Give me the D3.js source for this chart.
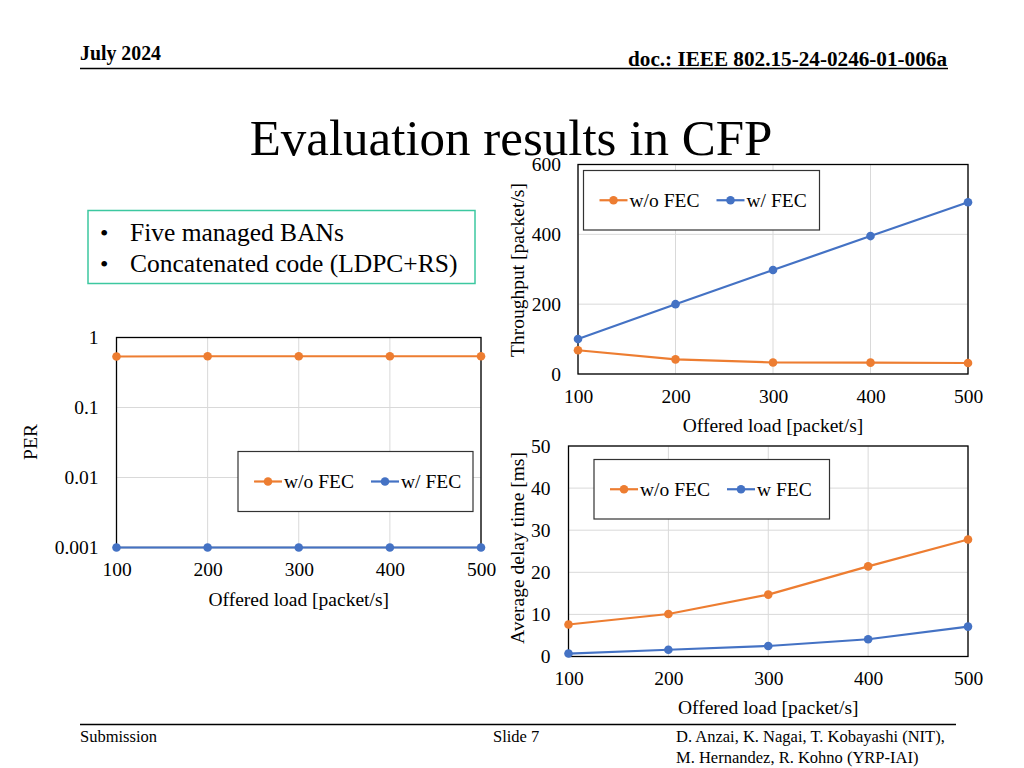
<!DOCTYPE html>
<html><head><meta charset="utf-8">
<script src="https://cdn.jsdelivr.net/npm/d3@7"></script>
<style>
body{margin:0;background:#fff;}
svg{display:block;font-family:"Liberation Serif","Times New Roman",serif;}
</style></head>
<body>
<svg id="c" width="1024" height="768"></svg>
<script>
const loads = [100, 200, 300, 400, 500];
const seriesNames = ["w/o FEC", "w/ FEC"];
const delaySeriesNames = ["w/o FEC", "w FEC"];
const thrNoFec = [68, 42, 33, 32.5, 31.5];
const thrFec = [100, 200, 298, 395, 492];
const perNoFec = [0.535, 0.54, 0.54, 0.54, 0.54];
const perFec = [0.001, 0.001, 0.001, 0.001, 0.001];
const delayNoFec = [7.6, 10.1, 14.7, 21.4, 27.8];
const delayFec = [0.7, 1.6, 2.5, 4.1, 7.1];
const thrTicks = [0, 200, 400, 600];
const perTicks = [1, 0.1, 0.01, 0.001];
const perTickLabels = ["1", "0.1", "0.01", "0.001"];
const delayTicks = [0, 10, 20, 30, 40, 50];
const colors = ["#ED7D31", "#4472C4"];
const FS = 19.5;

const svg = d3.select("#c");

// Header
svg.append("text").attr("x", 80).attr("y", 60).attr("font-size", 20).attr("font-weight", "bold").attr("textLength", 81).attr("lengthAdjust", "spacingAndGlyphs").text("July 2024");
svg.append("text").attr("x", 947).attr("y", 66).attr("text-anchor", "end").attr("font-size", 20).attr("font-weight", "bold").attr("textLength", 319).attr("lengthAdjust", "spacingAndGlyphs").text("doc.: IEEE 802.15-24-0246-01-006a");
svg.append("line").attr("x1", 80).attr("x2", 948).attr("y1", 68.5).attr("y2", 68.5).attr("stroke", "#000").attr("stroke-width", 1.5);

// Title
svg.append("text").attr("x", 511).attr("y", 155).attr("text-anchor", "middle").attr("font-size", 51).text("Evaluation results in CFP");

// Bullet box
svg.append("rect").attr("x", 88).attr("y", 210.5).attr("width", 387).attr("height", 73).attr("fill", "none").attr("stroke", "#3CC8A0").attr("stroke-width", 1.5);
["Five managed BANs", "Concatenated code (LDPC+RS)"].forEach((t, i) => {
  svg.append("text").attr("x", 100).attr("y", 241 + i * 31).attr("font-size", 24).text("\u2022");
  svg.append("text").attr("x", 130).attr("y", 241 + i * 31).attr("font-size", 25.5).text(t);
});

// Footer
svg.append("line").attr("x1", 80).attr("x2", 956).attr("y1", 724.5).attr("y2", 724.5).attr("stroke", "#000").attr("stroke-width", 1.5);
svg.append("text").attr("x", 80).attr("y", 742).attr("font-size", 16.5).text("Submission");
svg.append("text").attr("x", 493).attr("y", 742).attr("font-size", 16.5).text("Slide 7");
svg.append("text").attr("x", 676).attr("y", 742).attr("font-size", 16.5).text("D. Anzai, K. Nagai, T. Kobayashi (NIT),");
svg.append("text").attr("x", 676).attr("y", 763).attr("font-size", 16.5).text("M. Hernandez, R. Kohno (YRP-IAI)");

function chart(opt) {
  const g = svg.append("g");
  const x = d3.scaleLinear().domain([100, 500]).range([opt.x0, opt.x1]);
  const y = opt.y;
  g.selectAll(".vg").data(loads).join("line")
    .attr("x1", d => x(d)).attr("x2", d => x(d)).attr("y1", opt.y1).attr("y2", opt.y0)
    .attr("stroke", "#d9d9d9").attr("stroke-width", 1);
  g.selectAll(".hg").data(opt.ticks).join("line")
    .attr("x1", opt.x0).attr("x2", opt.x1).attr("y1", d => y(d)).attr("y2", d => y(d))
    .attr("stroke", "#d9d9d9").attr("stroke-width", 1);
  g.append("rect").attr("x", opt.x0).attr("y", opt.y1).attr("width", opt.x1 - opt.x0).attr("height", opt.y0 - opt.y1)
    .attr("fill", "none").attr("stroke", "#000").attr("stroke-width", 1.3);
  const ax = g.append("g").attr("transform", `translate(0,${opt.y0})`)
    .call(d3.axisBottom(x).tickValues(loads).tickSize(0).tickPadding(opt.xpad));
  ax.select(".domain").remove();
  ax.selectAll("text").attr("font-size", FS).attr("font-family", "Liberation Serif").attr("fill", "#000");
  const ay = g.append("g").attr("transform", `translate(${opt.x0},0)`)
    .call(d3.axisLeft(y).tickValues(opt.ticks).tickSize(0).tickPadding(opt.ypad).tickFormat((d, i) => opt.tickLabels ? opt.tickLabels[i] : d));
  ay.select(".domain").remove();
  ay.selectAll("text").attr("font-size", FS).attr("font-family", "Liberation Serif").attr("fill", "#000");
  g.append("text").attr("x", (opt.x0 + opt.x1) / 2).attr("y", opt.y0 + opt.xtitleDy).attr("text-anchor", "middle").attr("font-size", FS).text("Offered load [packet/s]");
  g.append("text").attr("transform", `translate(${opt.ytx},${opt.yty}) rotate(-90)`).attr("text-anchor", "middle").attr("font-size", FS).text(opt.ytitle);
  const line = d3.line().x((d, i) => x(loads[i])).y(d => y(d));
  opt.series.forEach((s, k) => {
    g.append("path").datum(s).attr("d", line).attr("fill", "none").attr("stroke", colors[k]).attr("stroke-width", 2.2);
    g.selectAll(".p" + k).data(s).join("circle").attr("cx", (d, i) => x(loads[i])).attr("cy", d => y(d)).attr("r", 4.3).attr("fill", colors[k]);
  });
  const L = opt.legend;
  g.append("rect").attr("x", L.x).attr("y", L.y).attr("width", L.w).attr("height", L.h).attr("fill", "#fff").attr("stroke", "#333").attr("stroke-width", 1.2);
  const ly = L.y + L.h / 2;
  const items = [{sx: L.x + 16, tx: L.x + 46}, {sx: L.x + 133, tx: L.x + 163}];
  items.forEach((it, k) => {
    g.append("line").attr("x1", it.sx).attr("x2", it.sx + 28).attr("y1", ly).attr("y2", ly).attr("stroke", colors[k]).attr("stroke-width", 2.2);
    g.append("circle").attr("cx", it.sx + 14).attr("cy", ly).attr("r", 4.3).attr("fill", colors[k]);
    g.append("text").attr("x", it.tx).attr("y", ly + 6.5).attr("font-size", FS).text(opt.names[k]);
  });
}

chart({
  x0: 578, x1: 968, y0: 374, y1: 164.5,
  y: d3.scaleLinear().domain([0, 600]).range([374, 164.5]),
  ticks: thrTicks, xpad: 15, ypad: 17, xtitleDy: 58,
  ytitle: "Throughput [packet/s]", ytx: 524, yty: 270,
  series: [thrNoFec, thrFec], names: seriesNames,
  legend: {x: 583.5, y: 170.5, w: 236, h: 59.5}
});

chart({
  x0: 116.5, x1: 481, y0: 547.5, y1: 337.5,
  y: d3.scaleLog().domain([0.001, 1]).range([547.5, 337.5]),
  ticks: perTicks, tickLabels: perTickLabels, xpad: 15, ypad: 18, xtitleDy: 58,
  ytitle: "PER", ytx: 37, yty: 442,
  series: [perNoFec, perFec], names: seriesNames,
  legend: {x: 238, y: 451.5, w: 235, h: 60}
});

chart({
  x0: 568.5, x1: 968, y0: 656.5, y1: 446,
  y: d3.scaleLinear().domain([0, 50]).range([656.5, 446]),
  ticks: delayTicks, xpad: 15, ypad: 18, xtitleDy: 57,
  ytitle: "Average delay time [ms]", ytx: 524, yty: 548,
  series: [delayNoFec, delayFec], names: delaySeriesNames,
  legend: {x: 594, y: 459.5, w: 235.5, h: 59.5}
});
</script>
</body></html>
